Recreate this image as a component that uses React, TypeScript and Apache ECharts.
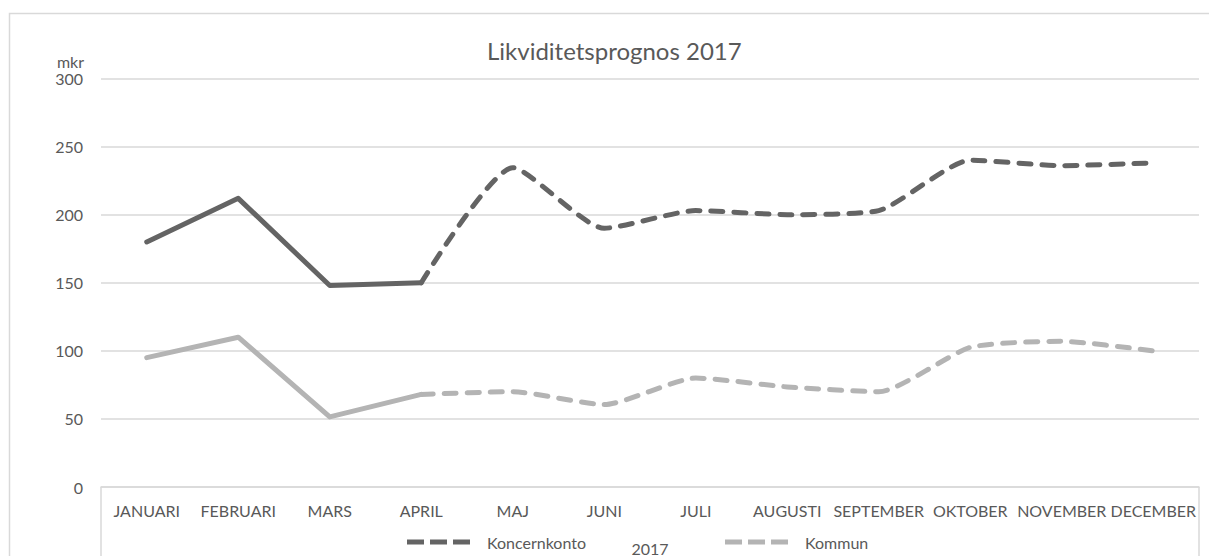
import React, { useEffect, useRef } from "react";
import * as echarts from "echarts";

const months = [
  "JANUARI", "FEBRUARI", "MARS", "APRIL", "MAJ", "JUNI",
  "JULI", "AUGUSTI", "SEPTEMBER", "OKTOBER", "NOVEMBER", "DECEMBER",
];
const koncernkonto = [180, 212, 148, 150, 234.5, 190, 203, 200, 203, 240, 236, 238];
const kommun = [95, 110, 51.5, 68, 70, 60.5, 80, 73.5, 70, 102.5, 107, 100];
const lastActualIndex = 3; // APRIL: solid up to here, dashed forecast after
const yTicks = { min: 0, max: 300, interval: 50 };

const seriesNames = ["Koncernkonto", "Kommun"];
const darkColor = "#646464";
const lightColor = "#B4B4B4";
const textColor = "#595959";
const gridColor = "#D9D9D9";
const FONT = "Lato";

const dashIcon = "path://M0 0h17v5H0z M23 0h17v5H23z M46 0h17v5H46z";

export default function App() {
  const ref = useRef<HTMLDivElement>(null);

  useEffect(() => {
    document.body.style.margin = "0";
    const chart = echarts.init(ref.current!, null, { renderer: "svg" });

    const actual = (arr: number[]) => arr.map((v, i) => (i <= lastActualIndex ? v : null));
    const forecast = (arr: number[]) => arr.map((v, i) => (i >= lastActualIndex ? v : null));

    const mk = (name: string, data: (number | null)[], color: string, dashed: boolean) => ({
      name,
      type: "line",
      data,
      symbol: "none",
      smooth: dashed ? 0.2 : false,
      connectNulls: false,
      color,
      itemStyle: { color },
      lineStyle: {
        color,
        width: 5,
        type: dashed ? [12, 11] : "solid",
        cap: "round",
        join: "round",
      },
      z: dashed ? 2 : 3,
    });

    chart.setOption({
      animation: false,
      backgroundColor: "#ffffff",
      title: {
        text: "Likviditetsprognos 2017",
        left: 482,
        top: 33,
        textStyle: { fontFamily: FONT, fontSize: 24, fontWeight: "normal", color: textColor },
      },
      legend: {
        data: [
          { name: seriesNames[0], icon: dashIcon },
          { name: seriesNames[1], icon: dashIcon },
        ],
        left: 402,
        top: 529,
        itemWidth: 63,
        itemHeight: 5,
        itemGap: 139,
        textStyle: {
          fontFamily: FONT,
          fontSize: 16,
          color: textColor,
          padding: [0, 0, 0, 12],
        },
      },
      grid: {
        left: 101,
        right: 10,
        top: 78.5,
        bottom: 69,
        containLabel: false,
        outerBoundsMode: "none",
      },
      xAxis: {
        type: "category",
        data: months,
        boundaryGap: true,
        name: "2017",
        nameLocation: "middle",
        nameGap: 53,
        nameTextStyle: { fontFamily: FONT, fontSize: 16, color: textColor },
        axisLine: { show: true, lineStyle: { color: gridColor, width: 1.5 } },
        axisTick: { show: false },
        axisLabel: {
          interval: 0,
          margin: 15,
          fontFamily: FONT,
          fontSize: 16,
          color: textColor,
        },
      },
      yAxis: {
        type: "value",
        min: yTicks.min,
        max: yTicks.max,
        interval: yTicks.interval,
        name: "mkr",
        nameLocation: "end",
        nameGap: 9.5,
        nameTextStyle: {
          fontFamily: FONT,
          fontSize: 16,
          lineHeight: 16,
          color: textColor,
          align: "right",
          padding: [0, 17, 0, 0],
        },
        axisLine: { show: false },
        axisTick: { show: false },
        axisLabel: { margin: 18, fontFamily: FONT, fontSize: 16, lineHeight: 16, color: textColor },
        splitLine: { lineStyle: { color: gridColor, width: 1.5 } },
      },
      graphic: [
        {
          type: "polyline",
          silent: true,
          shape: { points: [[9.5, 560], [9.5, 13.5], [1212, 13.5]] },
          style: { stroke: gridColor, lineWidth: 1.5, fill: "none" },
        },
        {
          type: "line",
          silent: true,
          shape: { x1: 101, y1: 487, x2: 101, y2: 560 },
          style: { stroke: gridColor, lineWidth: 1.5 },
        },
        {
          type: "line",
          silent: true,
          shape: { x1: 1199, y1: 487, x2: 1199, y2: 560 },
          style: { stroke: gridColor, lineWidth: 1.5 },
        },
      ],
      series: [
        mk(seriesNames[0], actual(koncernkonto), darkColor, false),
        mk(seriesNames[0], forecast(koncernkonto), darkColor, true),
        mk(seriesNames[1], actual(kommun), lightColor, false),
        mk(seriesNames[1], forecast(kommun), lightColor, true),
      ],
    });

    return () => chart.dispose();
  }, []);

  return <div ref={ref} style={{ width: 1209, height: 556 }} />;
}
